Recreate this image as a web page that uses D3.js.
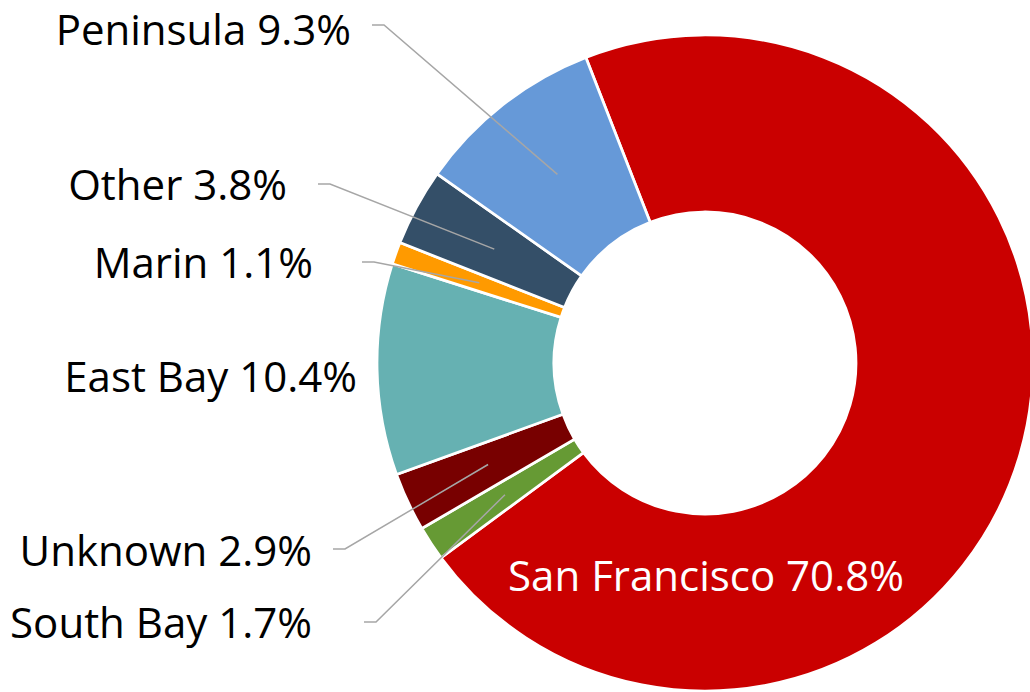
<!DOCTYPE html>
<html>
<head>
<meta charset="utf-8">
<script src="https://cdn.jsdelivr.net/npm/d3@7"></script>
<style>
  html, body { margin: 0; padding: 0; background: #fff; }
  svg { display: block; }
  .lbl { font-family: "Open Sans", "Noto Sans", sans-serif; font-size: 42px; fill: #000; }
  .lbl-in { fill: #fff; }
</style>
</head>
<body>
<svg id="chart" width="1030" height="692"></svg>
<script>
// ============================================================
// DATA
// ============================================================
const categories = ['San Francisco', 'South Bay', 'Unknown', 'East Bay', 'Marin', 'Other', 'Peninsula'];
const shares = [70.8, 1.7, 2.9, 10.4, 1.1, 3.8, 9.3];
const sliceColors = ['#CA0000', '#669A34', '#780000', '#66B1B2', '#FF9A00', '#344F68', '#6699D8'];

// ============================================================
// LAYOUT
// ============================================================
const W = 1030, H = 692;
const cx = 705, cy = 363;
const outerR = 328, innerR = 151;
const startDeg = -21.3;

// label anchor (text end, baseline) and where its leader line begins
const labelLayout = {
  'Peninsula':     { x: 351, y: 45,  lx: 372, ly: 25 },
  'Other':         { x: 287, y: 200, lx: 318, ly: 184 },
  'Marin':         { x: 313, y: 278, lx: 362, ly: 262 },
  'East Bay':      { x: 357, y: 392 },
  'Unknown':       { x: 312, y: 566, lx: 333, ly: 549 },
  'South Bay':     { x: 312, y: 638, lx: 364, ly: 622 },
  'San Francisco': { x: 706, y: 591, inside: true }
};

const svg = d3.select('#chart');
const g = svg.append('g').attr('transform', `translate(${cx},${cy})`);

const rows = categories.map((c, i) => ({ name: c, value: shares[i], color: sliceColors[i] }));

const pie = d3.pie()
  .value(d => d.value)
  .sort(null)
  .startAngle(startDeg * Math.PI / 180)
  .endAngle(startDeg * Math.PI / 180 + 2 * Math.PI);

const arc = d3.arc().innerRadius(innerR).outerRadius(outerR);
const midArc = d3.arc().innerRadius((innerR + outerR) / 2).outerRadius((innerR + outerR) / 2);

const arcs = pie(rows);

g.selectAll('path.slice')
  .data(arcs)
  .join('path')
  .attr('class', 'slice')
  .attr('d', arc)
  .attr('fill', d => d.data.color)
  .attr('stroke', '#fff')
  .attr('stroke-width', 2.75)
  .attr('stroke-linejoin', 'miter');

// ============================================================
// LEADER LINES + LABELS
// ============================================================
const fmt = d3.format('.1f');
const lineGen = d3.line();

arcs.forEach(d => {
  const lay = labelLayout[d.data.name];
  if (!lay) return;
  if (lay.lx !== undefined) {
    const c = midArc.centroid(d);
    const pts = [
      [lay.lx, lay.ly],
      [lay.lx + 12, lay.ly],
      [cx + c[0], cy + c[1]]
    ];
    svg.append('path')
      .attr('d', lineGen(pts))
      .attr('fill', 'none')
      .attr('stroke', '#A6A6A6')
      .attr('stroke-width', 1.5);
  }
  svg.append('text')
    .attr('class', lay.inside ? 'lbl lbl-in' : 'lbl')
    .attr('x', lay.x)
    .attr('y', lay.y)
    .attr('text-anchor', lay.inside ? 'middle' : 'end')
    .text(`${d.data.name} ${fmt(d.data.value)}%`);
});
</script>
</body>
</html>
